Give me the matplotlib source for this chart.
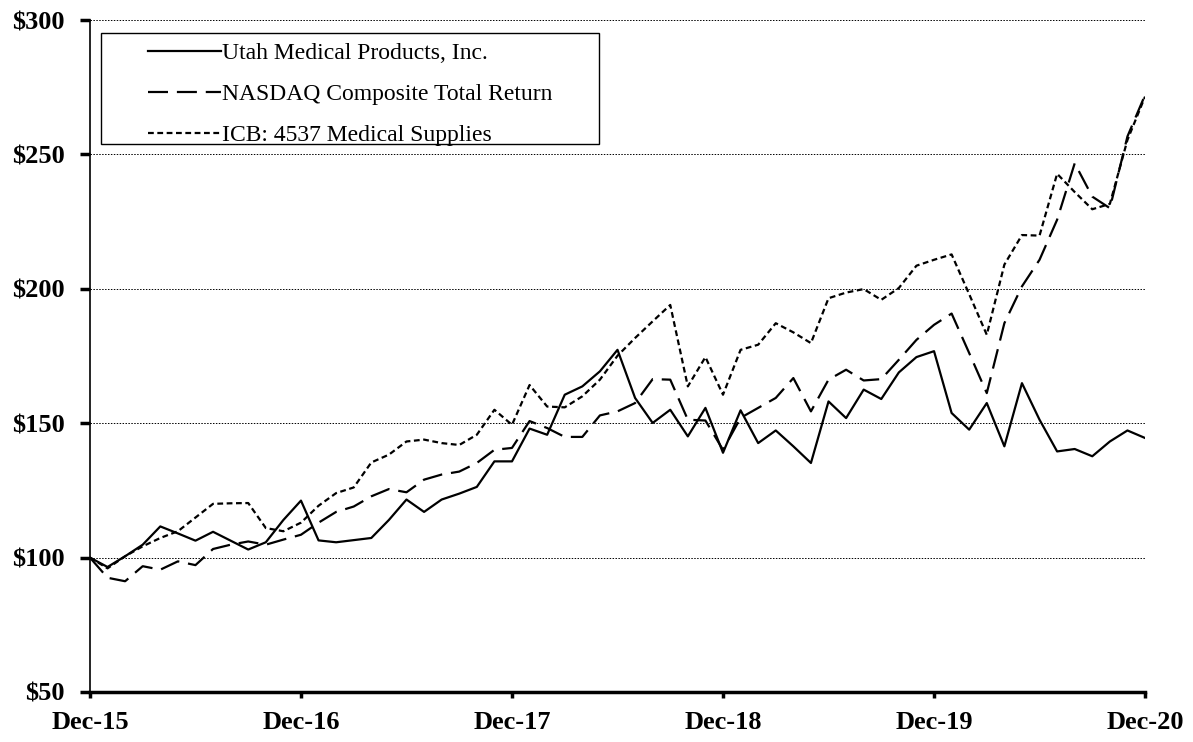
import matplotlib
matplotlib.use("Agg")
import matplotlib.pyplot as plt
from matplotlib.patches import Rectangle

# monthly index, Dec-15 .. Dec-20 (61 points)
months = list(range(61))
tick_pos = [0, 12, 24, 36, 48, 60]
tick_labels = ["Dec-15", "Dec-16", "Dec-17", "Dec-18", "Dec-19", "Dec-20"]
y_ticks = [50, 100, 150, 200, 250, 300]

utah = [100, 96.5, 100.5, 104.8, 111.6, 109, 106.3, 109.6, 106.3, 103, 105.7, 114, 121.2,
        106.4, 105.7, 106.5, 107.3, 114, 121.6, 117, 121.6, 123.8, 126.3, 135.8, 135.8,
        148, 145.7, 160.6, 163.7, 169.3, 177.3, 159.4, 150.1, 155, 145.1, 155.7, 139,
        154.8, 142.6, 147.3, 141.4, 135.2, 158.1, 151.9, 162.5, 159, 168.9, 174.6, 176.8,
        153.8, 147.6, 157.5, 141.4, 164.9, 151.3, 139.5, 140.4, 137.7, 143.2, 147.3, 144.5]

nasdaq = [100, 92.5, 91.2, 96.8, 95.5, 98.6, 97.2, 103.2, 104.8, 106, 104.8, 106.7, 108.5,
          113, 117, 119, 122.8, 125.5, 124.3, 129, 130.9, 132, 135.2, 140.1, 140.8,
          150.8, 148.2, 144.9, 144.9, 152.9, 154.4, 157.5, 166.4, 166.2, 151.3, 151, 140.1,
          152, 155.7, 159.4, 166.8, 154.4, 166.2, 169.9, 165.9, 166.4, 173.6, 181, 186.6,
          190.8, 176.1, 161.2, 187.2, 200.9, 210.8, 225.7, 246.7, 234.3, 230, 256.7, 272.1]

icb = [100, 96, 100.5, 104.2, 107.3, 109.8, 114.9, 120, 120.2, 120.3, 111, 109.8, 113,
       119.3, 124, 126.1, 135.4, 138.3, 143.2, 143.9, 142.6, 141.9, 145.7, 155, 149.4,
       164.2, 156.2, 155.9, 160, 166.2, 175.1, 181.7, 187.9, 194, 163.7, 174.6, 160.6,
       177.3, 179.2, 187.2, 183.8, 179.8, 196.5, 198.6, 199.9, 195.9, 200.3, 208.6, 210.8,
       212.8, 198, 182.9, 209, 220, 219.8, 242.8, 236, 229.6, 231.6, 255.4, 271.5]

names = ["Utah Medical Products, Inc.", "NASDAQ Composite Total Return", "ICB: 4537 Medical Supplies"]

fig = plt.figure(figsize=(11.93, 7.42), dpi=100)
ax = fig.add_axes([0.0754, 0.0674, 0.8844, 0.9056])

# dotted gridlines
for v in y_ticks[1:]:
    ax.axhline(v, color="black", lw=0.7, linestyle=(0, (1.5, 1.5)), zorder=1)

ax.plot(months, utah, color="black", lw=1.6, label=names[0], zorder=3)
ax.plot(months, nasdaq, color="black", lw=1.6, linestyle=(0, (9, 4)), label=names[1], zorder=3)
ax.plot(months, icb, color="black", lw=1.6, linestyle=(0, (2.6, 1.6)), label=names[2], zorder=3)

ax.set_xlim(0, 60)
ax.set_ylim(50, 300)
ax.set_xticks(tick_pos)
ax.set_xticklabels(tick_labels)
ax.set_yticks(y_ticks)
ax.set_yticklabels(["\\$%d" % v for v in y_ticks])

for lab in ax.get_xticklabels() + ax.get_yticklabels():
    lab.set_fontfamily("Liberation Serif")
    lab.set_fontweight("bold")
    lab.set_fontsize(19)

ax.spines["top"].set_visible(False)
ax.spines["right"].set_visible(False)
ax.spines["left"].set_linewidth(1.2)
ax.spines["bottom"].set_linewidth(2.5)
ax.tick_params(axis="y", direction="out", length=7, width=2.5, pad=11)
ax.tick_params(axis="x", direction="out", length=4.5, width=2.5, pad=9)

# legend without frame, box drawn separately so entries sit indented
leg = ax.legend(loc="upper left", bbox_to_anchor=(0.055, 0.966), frameon=False,
                handlelength=3.1, handletextpad=0.05, borderpad=0, borderaxespad=0,
                labelspacing=0.82, prop={"family": "Liberation Serif", "size": 17})
ax.add_patch(Rectangle((0.0104, 0.8155), 0.472, 0.165, transform=ax.transAxes,
                       fill=True, facecolor="white", edgecolor="black", lw=1.0, zorder=4))
leg.set_zorder(5)

fig.savefig("out.png", dpi=100)
